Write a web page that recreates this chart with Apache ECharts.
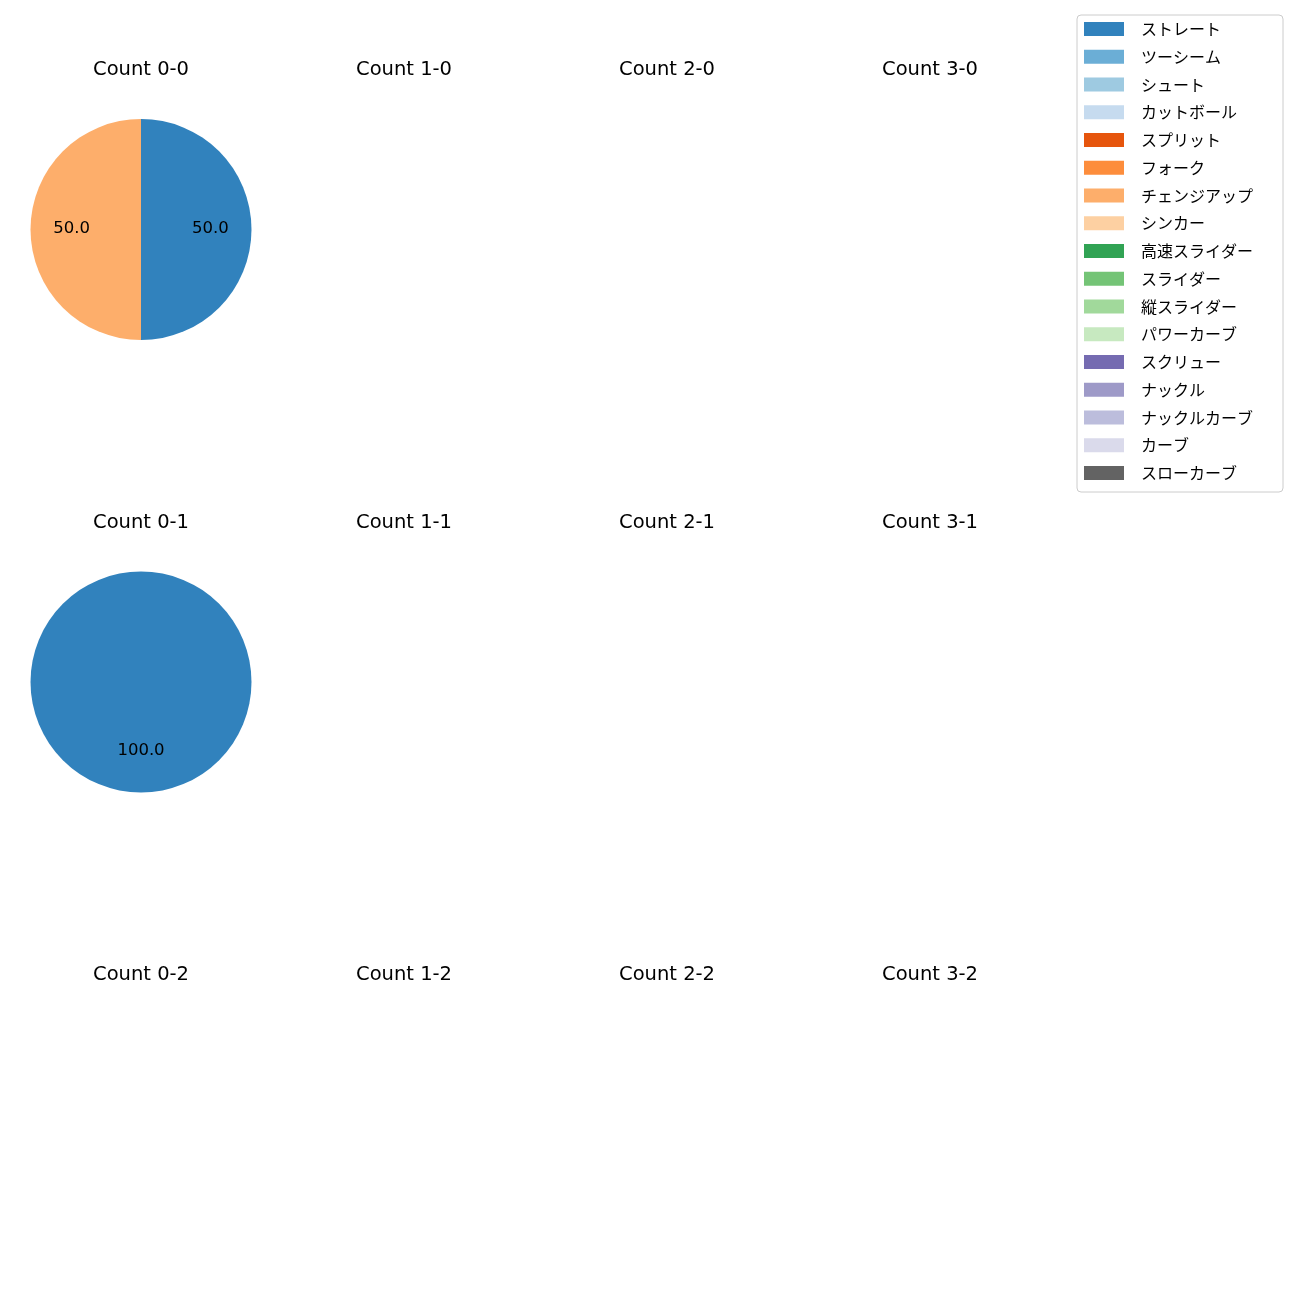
<!DOCTYPE html>
<html><head><meta charset="utf-8">
<script src="https://cdn.jsdelivr.net/npm/echarts@6/dist/echarts.min.js"></script>
<style>html,body{margin:0;padding:0;background:#fff}#c{width:1300px;height:1300px}</style>
</head><body><div id="c"></div>
<script>
const categories = ['ストレート','ツーシーム','シュート','カットボール','スプリット','フォーク','チェンジアップ','シンカー','高速スライダー','スライダー','縦スライダー','パワーカーブ','スクリュー','ナックル','ナックルカーブ','カーブ','スローカーブ'];
const palette = ['#3182bd','#6baed6','#9ecae1','#c6dbef','#e6550d','#fd8d3c','#fdae6b','#fdd0a2','#31a354','#74c476','#a1d99b','#c7e9c0','#756bb1','#9e9ac8','#bcbddc','#dadaeb','#636363'];
const balls = [0, 1, 2, 3];
const strikes = [0, 1, 2];
// pitch counts per category for each count (others empty)
const count_0_0 = [1,0,0,0,0,0,1,0,0,0,0,0,0,0,0,0,0];
const count_0_1 = [1,0,0,0,0,0,0,0,0,0,0,0,0,0,0,0,0];
const countData = { '0-0': count_0_0, '0-1': count_0_1 };

const FONT = '"Noto Sans CJK JP", "Noto Sans", sans-serif';
const LATIN = '"DejaVu Sans", sans-serif';
const colX = [141, 404, 667, 930];
const titleY = [70, 523, 975];
const pieY = [229.5, 682, 1134.5];
const R = 110.5;

const series = [];
const graphics = [];
strikes.forEach((s, si) => {
  balls.forEach((b, bi) => {
    const key = b + '-' + s;
    graphics.push({
      type: 'text', x: colX[bi], y: titleY[si], silent: true,
      style: { text: 'Count ' + key, fill: '#000', font: '19.5px ' + LATIN, textAlign: 'center', textVerticalAlign: 'middle' }
    });
    const vals = countData[key];
    if (!vals) return;
    const data = categories.map((c, i) => ({ name: c, value: vals[i], itemStyle: { color: palette[i] } }));
    series.push({
      type: 'pie', center: [colX[bi], pieY[si]], radius: [0, R],
      startAngle: 90, clockwise: true, minAngle: 0, avoidLabelOverlap: false,
      silent: true, animation: false,
      itemStyle: { borderWidth: 0 },
      label: { show: false }, labelLine: { show: false },
      emphasis: { disabled: true },
      data: data
    });
    // label-only ring so labels sit at 0.6 of the radius
    series.push({
      type: 'pie', center: [colX[bi], pieY[si]], radius: [0, R * 1.2],
      startAngle: 90, clockwise: true, minAngle: 0, avoidLabelOverlap: false,
      silent: true, animation: false,
      itemStyle: { color: 'rgba(0,0,0,0)', borderWidth: 0 },
      label: {
        show: true, position: 'inside', color: '#000', fontSize: 16.5, fontFamily: LATIN,
        offset: [0, -0.5],
        formatter: p => p.value > 0 ? p.percent.toFixed(1) : ''
      },
      labelLine: { show: false },
      emphasis: { disabled: true },
      data: categories.map((c, i) => ({ name: c, value: vals[i] }))
    });
  });
});

const chart = echarts.init(document.getElementById('c'), null, { renderer: 'canvas' });
chart.setOption({
  backgroundColor: '#fff',
  animation: false,
  legend: {
    orient: 'vertical', left: 1077, top: 15,
    itemWidth: 40, itemHeight: 14, itemGap: 11.75,
    padding: [6, 9, 11, 7],
    borderColor: '#cccccc', borderWidth: 1, borderRadius: 4,
    selectedMode: false, icon: 'rect',
    textStyle: { fontSize: 16, fontFamily: FONT, color: '#000', padding: [0, 0, 0, 12], width: 133, lineHeight: 16 },
    data: categories.map((c, i) => ({ name: c, itemStyle: { color: palette[i] } }))
  },
  graphic: graphics,
  series: series
});
</script>
</body></html>
